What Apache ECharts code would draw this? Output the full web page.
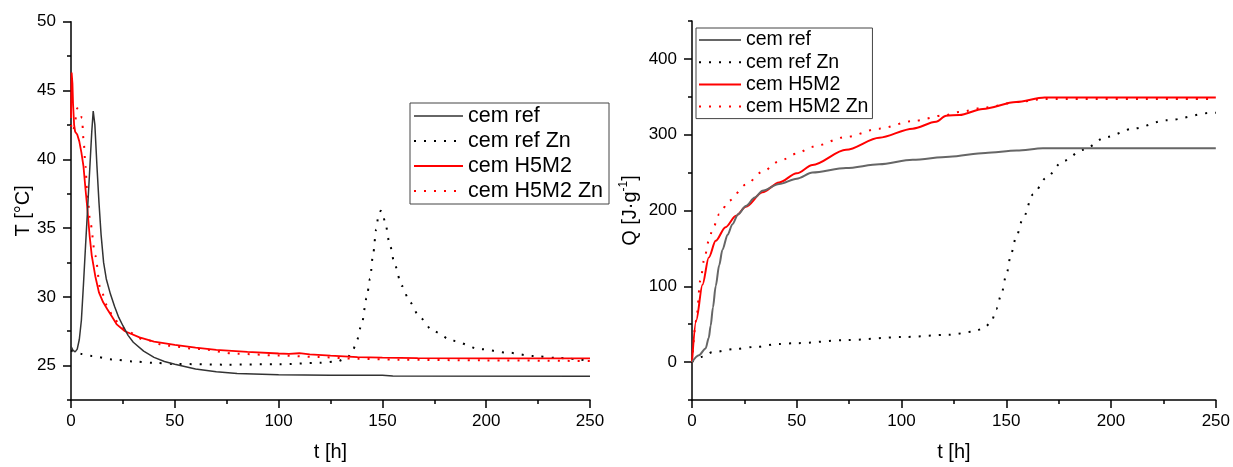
<!DOCTYPE html>
<html>
<head>
<meta charset="utf-8">
<script src="https://cdn.jsdelivr.net/npm/echarts@6/dist/echarts.min.js"></script>
<style>
html,body{margin:0;padding:0;background:#fff;}
#c{width:1233px;height:467px;}
</style>
</head>
<body>
<div id="c"></div>
<script>
// ---- Data (t [h], value) ----
const seriesNames = ['cem ref', 'cem ref Zn', 'cem H5M2', 'cem H5M2 Zn'];

// Left chart: temperature T [°C]
const tempRef = [[0,26.4],[1,26.1],[2,26.0],[3,26.2],[4,26.9],[5,28.3],[6,30.9],[7,33.7],[8,36.4],[9,39.2],[10,42],[10.7,43.5],[11.5,42.5],[12.5,39.5],[13.5,36.8],[14.5,34.5],[15.7,32.5],[17,31.3],[19,30.2],[21,29.3],[23,28.5],[25,27.9],[27.5,27.2],[30,26.7],[35,26.05],[40,25.6],[45,25.3],[50,25.1],[60,24.75],[70,24.55],[80,24.42],[100,24.34],[125,24.3],[150,24.3],[155,24.25],[250,24.22]];
const tempRefZn = [[0,26.1],[5,25.85],[10,25.7],[20,25.45],[30,25.3],[40,25.2],[50,25.12],[75,25.07],[100,25.1],[120,25.2],[128,25.3],[133,25.55],[136,26.2],[137.6,26.8],[140,28],[142.4,29.9],[144,31.3],[145.6,33.2],[147,34.9],[148,35.8],[149.2,36.25],[150,36.2],[151.3,35.4],[153.7,33.7],[156,32.3],[159.3,30.8],[163.3,29.6],[168,28.5],[174.5,27.5],[184,26.8],[197,26.2],[210,25.95],[222.7,25.7],[235,25.55],[250,25.35]];
const tempH5M2 = [[0,43],[0.3,46.3],[0.7,45.5],[1,44],[1.5,42.5],[2,42],[3,41.8],[4,41.3],[5,40.5],[6,39.5],[7,37.8],[8,36.2],[9,34.4],[10,33],[11.7,31.5],[13.5,30.3],[15.5,29.6],[17.5,29.1],[20,28.5],[22,28],[26,27.5],[33,27.05],[40,26.75],[50,26.5],[60,26.3],[70,26.15],[85,26],[100,25.88],[105,25.85],[110,25.9],[115,25.82],[125,25.72],[138,25.62],[150,25.58],[167,25.55],[200,25.53],[250,25.52]];
const tempH5M2Zn = [[0,42.5],[1,42],[2,42.8],[3,43.7],[4,43.5],[5.3,43],[6,41.5],[7,39.5],[7.7,37.8],[9.3,35.4],[11.7,33],[14.1,30.6],[17.9,29.2],[20,28.6],[23.4,28.0],[27,27.5],[35,26.9],[46,26.45],[61.6,26.2],[80,25.86],[100,25.74],[119,25.62],[138,25.5],[157,25.43],[200,25.38],[250,25.33]];

// Right chart: heat Q [J/g]
const heatRef = [[0,0],[3.3,9],[6.5,18],[8,32],[8.9,48],[10,72],[11.3,100],[13,128],[14.5,148],[17,168],[19.3,182],[22,195],[25.7,206],[30,217],[33.6,226],[41.6,235],[50,242],[57.5,250],[73.5,256],[89.4,261],[105.3,267],[122.8,271],[140,276],[155,279],[167.5,282],[250,282]];
const heatRefZn = [[0,0],[5,7],[9.7,13],[20,17],[30,20],[41.6,24],[50,25],[73.5,29],[100,33],[122.8,36],[134,40],[138.8,44],[142.8,52],[145.2,70],[147.6,89],[150,115],[152.3,143],[154.7,165],[157.9,189],[162.7,221],[169,243],[177,265],[186.6,280],[197.8,297],[210.5,308],[226.4,319],[248.7,329],[250,329]];
const heatH5M2 = [[0,0],[2,55],[5,102],[8,138],[11.3,160],[16,178],[21,193],[25.7,205],[33.6,224],[41.6,237],[50,249],[57.5,260],[73.5,280],[89.4,296],[105.3,308],[116.5,317],[121.3,325],[127.6,326],[138.8,334],[154.7,343],[168.3,349],[250,349]];
const heatH5M2Zn = [[0,0],[2,55],[4,108],[6,138],[8,160],[9.7,174],[13,195],[17.7,213],[25.7,234],[33.6,251],[41.6,265],[50,275],[57.5,284],[73.5,297],[89.4,308],[105.3,318],[121.3,326],[127.6,330],[140,336],[155,343],[168,347],[250,347]];

// Tick values
const tempMajorTicks = [25, 30, 35, 40, 45, 50];
const tempMinorTicks = [22.5, 27.5, 32.5, 37.5, 42.5, 47.5];
const heatMajorTicks = [0, 100, 200, 300, 400];
const heatMinorTicks = [-50, 50, 150, 250, 350, 450];

// ---- Chart ----
const FONT = 'Liberation Sans, Arial, sans-serif';
const chart = echarts.init(document.getElementById('c'), null, {renderer: 'canvas'});
const axisLine = {show: true, onZero: false, lineStyle: {color: '#000', width: 1.5}};
const dotted = [2, 8];

function xAx(gridIndex) {
  return {
    type: 'value', gridIndex, min: 0, max: 250, interval: 50,
    name: 't [h]', nameLocation: 'middle', nameGap: 42,
    nameTextStyle: {fontFamily: FONT, fontSize: 20, color: '#000'},
    axisLine,
    axisTick: {show: true, inside: false, length: 8, lineStyle: {color: '#000', width: 1.5}},
    minorTick: {show: true, splitNumber: 2, length: 4, lineStyle: {color: '#000', width: 1.5}},
    axisLabel: {fontFamily: FONT, fontSize: 17, color: '#000', margin: 13},
    splitLine: {show: false}, minorSplitLine: {show: false}
  };
}

function yMain(gridIndex, min, max, majors, name, gap, nameStyle) {
  return {
    type: 'value', gridIndex, min, max, position: 'left', offset: 0,
    name, nameLocation: 'middle', nameGap: gap, nameRotate: 90,
    nameTextStyle: nameStyle,
    axisLine,
    axisTick: {show: true, length: 8, customValues: majors, lineStyle: {color: '#000', width: 1.5}},
    axisLabel: {fontFamily: FONT, fontSize: 17, color: '#000', margin: 15, customValues: majors},
    splitLine: {show: false}
  };
}
function yMinor(gridIndex, min, max, minors) {
  return {
    type: 'value', gridIndex, min, max, position: 'left', offset: 0,
    axisLine: {show: false},
    axisTick: {show: true, length: 4, customValues: minors, lineStyle: {color: '#000', width: 1.5}},
    axisLabel: {show: false},
    splitLine: {show: false}
  };
}

function line(name, data, xi, yi, color, width, dash, smooth) {
  return {
    type: 'line', name, data, xAxisIndex: xi, yAxisIndex: yi,
    showSymbol: false, symbol: 'none', smooth: smooth, smoothMonotone: 'x',
    lineStyle: {color, width, type: dash ? dotted : 'solid'},
    itemStyle: {color},
    emphasis: {disabled: true}
  };
}

function legendItem(name, color, width, dash) {
  return {
    name,
    itemStyle: {opacity: 0, color: 'rgba(0,0,0,0)', borderWidth: 0},
    lineStyle: {color, width, type: dash ? dotted : 'solid', opacity: 1}
  };
}

const option = {
  animation: false,
  backgroundColor: '#fff',
  grid: [
    {left: 71, top: 21.7, width: 519, height: 385},
    {left: 692, top: 21, width: 524, height: 384.7}
  ],
  xAxis: [xAx(0), xAx(1)],
  yAxis: [
    yMain(0, 22.5, 50, tempMajorTicks, 'T [°C]', 38, {fontFamily: FONT, fontSize: 20, color: '#000'}),
    yMinor(0, 22.5, 50, tempMinorTicks),
    yMain(1, -50, 450, heatMajorTicks, '{a|Q [J·g}{s|-1}{a|]}', 50, {
      fontFamily: FONT, color: '#000',
      rich: {
        a: {fontFamily: FONT, fontSize: 20, color: '#000', lineHeight: 24},
        s: {fontFamily: FONT, fontSize: 12, color: '#000', verticalAlign: 'top', lineHeight: 12}
      }
    }),
    yMinor(1, -50, 450, heatMinorTicks)
  ],
  legend: [
    {
      orient: 'vertical', left: 410, top: 103,
      padding: [2, 6, 2, 3], itemGap: 3, itemWidth: 49, itemHeight: 14,
      borderColor: '#444', borderWidth: 1, backgroundColor: '#fff',
      itemStyle: {opacity: 0},
      textStyle: {fontFamily: FONT, fontSize: 21.5, color: '#000', lineHeight: 22},
      selectedMode: false,
      data: [
        legendItem(seriesNames[0], '#333', 1.5, false),
        legendItem(seriesNames[1], '#000', 2, true),
        legendItem(seriesNames[2], '#ff0000', 2, false),
        legendItem(seriesNames[3], '#ff0000', 2, true)
      ]
    },
    {
      orient: 'vertical', left: 696, top: 28,
      padding: [2, 4, 2, 2], itemGap: 2.2, itemWidth: 42, itemHeight: 14,
      borderColor: '#444', borderWidth: 1, backgroundColor: '#fff',
      itemStyle: {opacity: 0},
      textStyle: {fontFamily: FONT, fontSize: 19.5, color: '#000', lineHeight: 20},
      selectedMode: false,
      data: [
        legendItem(seriesNames[0], '#666', 2, false),
        legendItem(seriesNames[1], '#000', 2, true),
        legendItem(seriesNames[2], '#ff0000', 2, false),
        legendItem(seriesNames[3], '#ff0000', 2, true)
      ]
    }
  ],
  series: [
    line(seriesNames[1], tempRefZn, 0, 0, '#000', 2, true, 0.3),
    line(seriesNames[3], tempH5M2Zn, 0, 0, '#ff0000', 2, true, 0.3),
    line(seriesNames[2], tempH5M2, 0, 0, '#ff0000', 1.8, false, false),
    line(seriesNames[0], tempRef, 0, 0, '#333', 1.5, false, false),
    line(seriesNames[1], heatRefZn, 1, 2, '#000', 2, true, 0.3),
    line(seriesNames[3], heatH5M2Zn, 1, 2, '#ff0000', 2, true, 0.3),
    line(seriesNames[2], heatH5M2, 1, 2, '#ff0000', 2, false, 0.3),
    line(seriesNames[0], heatRef, 1, 2, '#666', 2, false, 0.3)
  ]
};
chart.setOption(option);
</script>
</body>
</html>
